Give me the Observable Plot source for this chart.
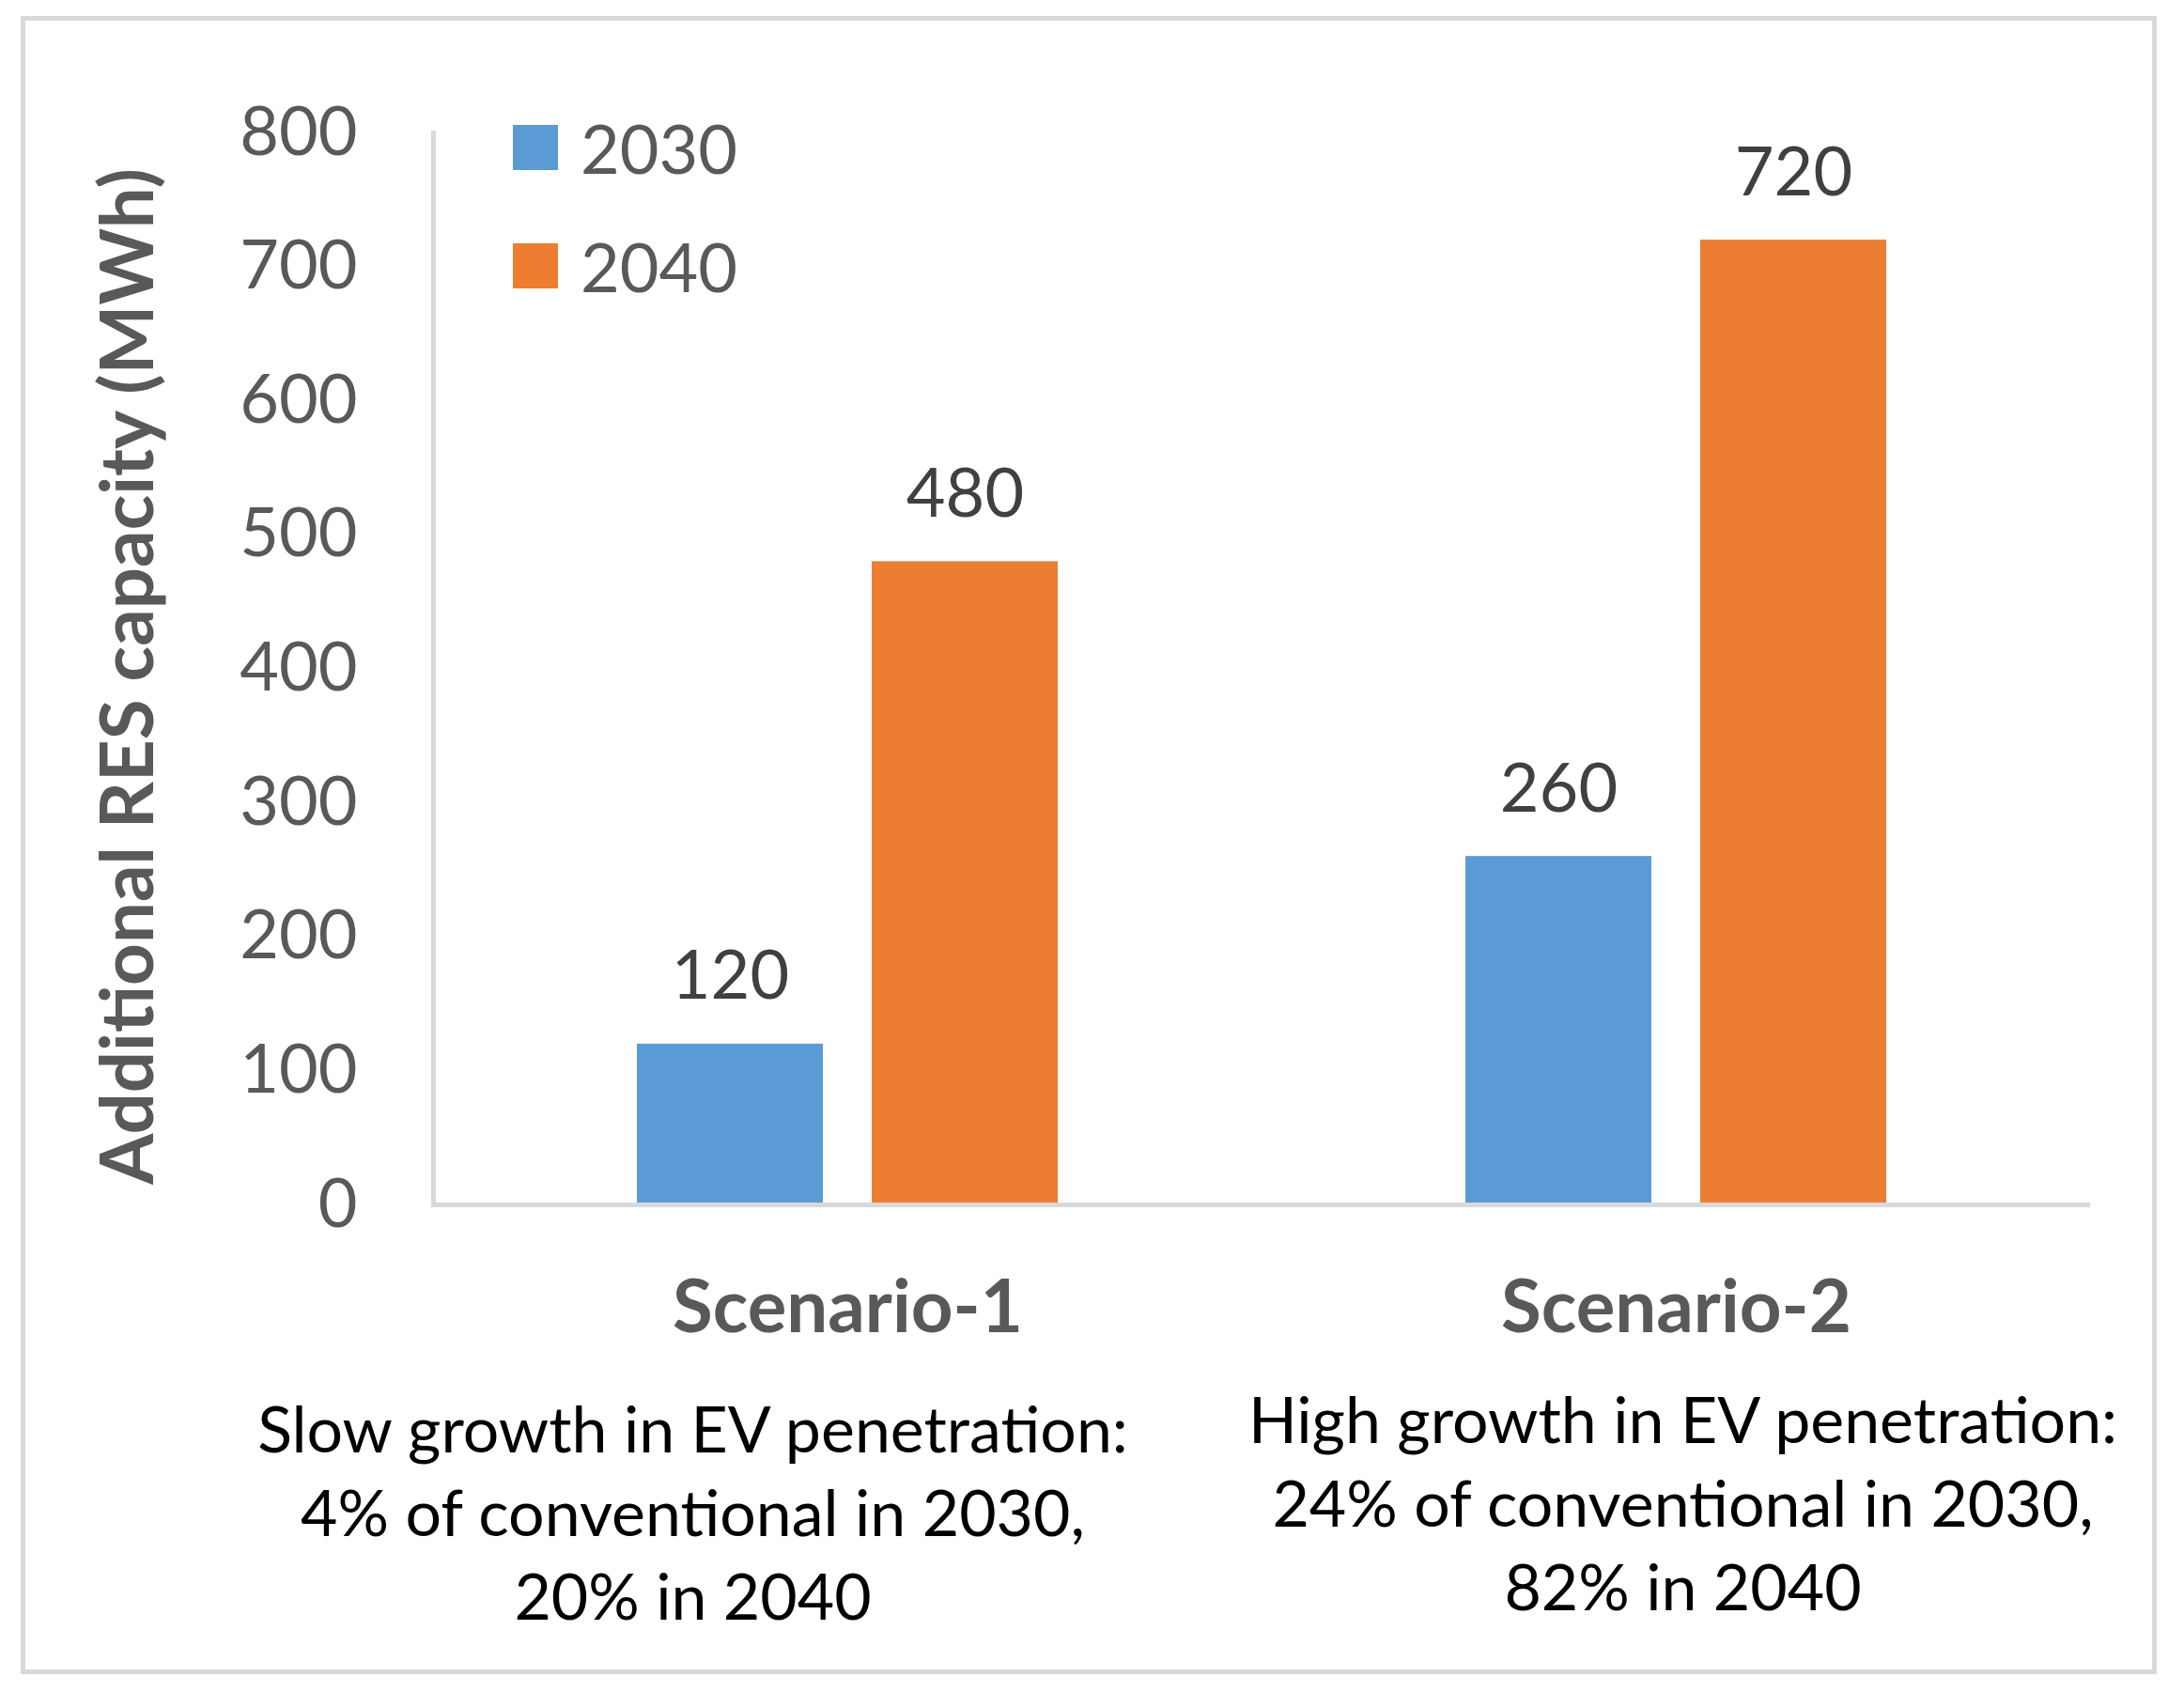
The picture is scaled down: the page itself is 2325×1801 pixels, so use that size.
<!DOCTYPE html>
<html>
<head>
<meta charset="utf-8">
<script src="https://cdn.jsdelivr.net/npm/d3@7"></script>
<script src="https://cdn.jsdelivr.net/npm/@observablehq/plot@0.6"></script>
<style>
  html, body { margin: 0; padding: 0; background: #fff; overflow: hidden; }
  #page { position: relative; width: 2325px; height: 1801px; background: #fff; font-family: Lato, "Open Sans", sans-serif; }
  #border { position: absolute; left: 22px; top: 17px; width: 2274px; height: 1765px; box-sizing: border-box; border: 5px solid #d9d9d9; }
  #chart { position: absolute; left: 0; top: 0; }
  #ytitle { position: absolute; left: 133px; top: 720px; transform: translate(-50%, -50%) rotate(-90deg); white-space: nowrap;
            font-weight: bold; font-size: 78px; line-height: 1; color: #595959; }
  .legend-item { position: absolute; left: 546px; height: 48px; display: flex; align-items: center; }
  .legend-swatch { width: 48px; height: 48px; }
  .legend-label { margin-left: 24px; font-size: 72px; line-height: 48px; color: #595959; }
</style>
</head>
<body>
<div id="page">
  <div id="border"></div>
  <div id="chart"></div>
  <div id="ytitle"></div>
  <div id="legend"></div>
</div>
<script>
// ---- data ----
const scenarios = ["Scenario-1", "Scenario-2"];
const descriptions = [
  "Slow growth in EV penetration:\n4% of conventional in 2030,\n20% in 2040",
  "High growth in EV penetration:\n24% of conventional in 2030,\n82% in 2040"
];
const years = ["2030", "2040"];
const values2030 = [120, 260];
const values2040 = [480, 720];
const yTicks = [0, 100, 200, 300, 400, 500, 600, 700, 800];
const yTitle = "Additional RES capacity (MWh)";
const colors = ["#5B9BD5", "#ED7D31"];

// ---- table built from the arrays ----
const data = scenarios.flatMap((s, i) => [
  {scenario: s, year: years[0], value: values2030[i]},
  {scenario: s, year: years[1], value: values2040[i]}
]);
const descData = scenarios.map((s, i) => ({scenario: s, desc: descriptions[i]}));

const plot = Plot.plot({
  width: 2325,
  height: 1801,
  marginLeft: 460,
  marginRight: 100,
  marginTop: 141,
  marginBottom: 519,
  style: {background: "transparent", fontFamily: "Lato, 'Open Sans', sans-serif", overflow: "visible"},
  fx: {domain: scenarios, padding: 0, axis: null, label: null},
  x: {domain: years, paddingInner: 0.207, paddingOuter: 0.861, axis: null},
  y: {domain: [0, 800], axis: null},
  color: {domain: years, range: colors},
  marks: [
    Plot.barY(data, {fx: "scenario", x: "year", y: "value", fill: "year"}),
    Plot.ruleY([0], {stroke: "#d9d9d9", strokeWidth: 5}),
    Plot.frame({anchor: "left", facetAnchor: "left", stroke: "#d9d9d9", strokeWidth: 5}),
    Plot.axisY(yTicks, {tickSize: 0, tickPadding: 81, fontSize: 72, color: "#595959", label: null}),
    Plot.axisFx({anchor: "bottom", tickSize: 0, tickPadding: 80, fontSize: 78, fontWeight: "bold", color: "#595959", label: null}),
    Plot.text(data, {fx: "scenario", x: "year", y: "value", text: d => String(d.value),
                     lineAnchor: "bottom", dy: -48, fontSize: 72, fill: "#404040"}),
    Plot.text(descData.filter((d, i) => i === 0), {fx: "scenario", text: "desc", frameAnchor: "bottom",
                     lineAnchor: "top", dy: 200, dx: -165, fontSize: 68, lineHeight: 1.31, fill: "#000"}),
    Plot.text(descData.filter((d, i) => i === 1), {fx: "scenario", text: "desc", frameAnchor: "bottom",
                     lineAnchor: "top", dy: 190, dx: 7, fontSize: 68, lineHeight: 1.31, fill: "#000"})
  ]
});
document.getElementById("chart").appendChild(plot);

document.getElementById("ytitle").textContent = yTitle;

const color = plot.scale("color");
const legend = document.getElementById("legend");
const legendTops = [133, 259];
years.forEach((y, i) => {
  const item = document.createElement("div");
  item.className = "legend-item";
  item.style.top = legendTops[i] + "px";
  const sw = document.createElement("div");
  sw.className = "legend-swatch";
  sw.style.background = color.apply(y);
  const lab = document.createElement("span");
  lab.className = "legend-label";
  lab.textContent = y;
  item.appendChild(sw);
  item.appendChild(lab);
  legend.appendChild(item);
});
</script>
</body>
</html>
